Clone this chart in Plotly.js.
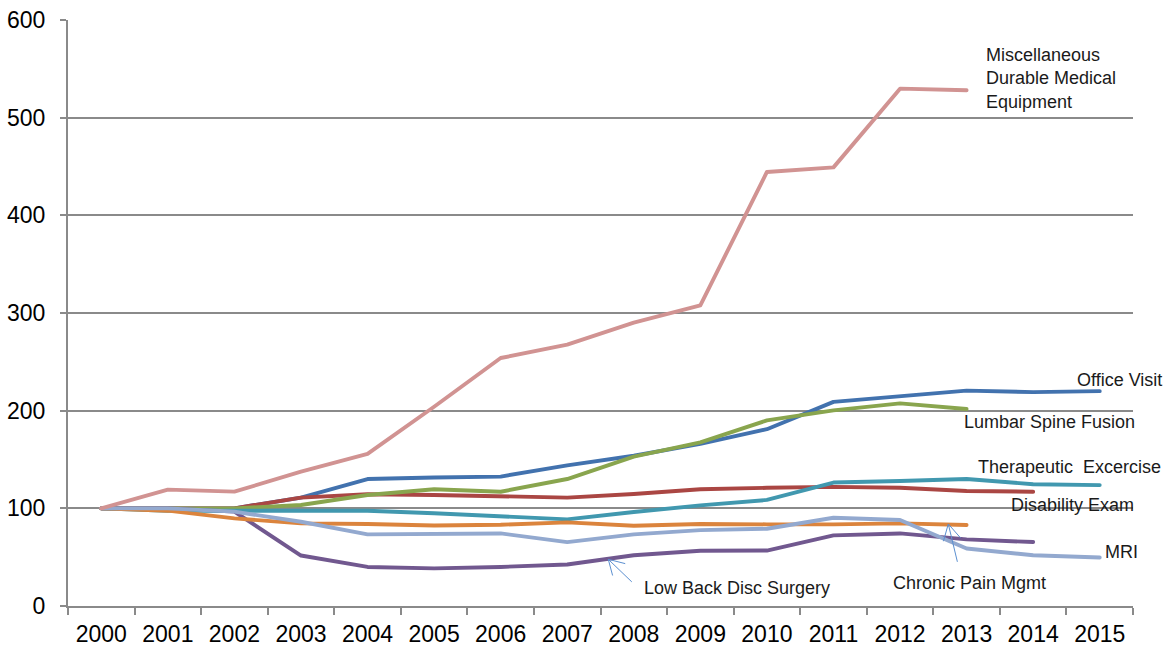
<!DOCTYPE html>
<html>
<head>
<meta charset="utf-8">
<script src="https://cdn.plot.ly/plotly-3.0.1.min.js"></script>
<style>
  html, body { margin: 0; padding: 0; background: #ffffff; }
  #chart { width: 1170px; height: 648px; }
  #chart .scatterlayer .js-line { stroke-linecap: round; stroke-linejoin: round; }
</style>
</head>
<body>
<div id="chart"></div>
<script>
// Index of cost per service (2000 = 100)
const years = ['2000','2001','2002','2003','2004','2005','2006','2007',
               '2008','2009','2010','2011','2012','2013','2014','2015'];

const officeVisit    = [100, 100, 100, 111, 130, 131.5, 132.5, 144, 153.8, 166, 181, 209, 215, 220.5, 219, 220];
const disabilityExam = [100, 100, 100, 111, 114.4, 113.7, 112, 111, 114.7, 119.5, 121, 122, 121, 117.8, 117, null];
const lumbarFusion   = [100, 100, 100, 103.4, 113.7, 119.5, 117, 130, 153, 167.5, 190, 200.3, 207.5, 201.7, null, null];
const lowBackDisc    = [100, 100, 96.6, 51.7, 40, 38.5, 40, 42.5, 52, 56.5, 56.8, 72.3, 74.3, 68.2, 65.5, null];
const therapeutic    = [100, 97.6, 97.6, 97.3, 97.6, 95, 92, 88.7, 96.2, 103, 108.6, 126.4, 128, 130, 124.7, 123.8];
const chronicPain    = [100, 97.6, 89.7, 84.6, 83.9, 82.5, 83.2, 85.6, 82.2, 84, 83.6, 83.6, 84.6, 82.9, null, null];
const mri            = [100, 100, 96.6, 86.3, 73.3, 73.6, 74.3, 65.4, 73.3, 77.7, 79.1, 90.4, 88, 58.9, 52, 49.7];
const miscDME        = [100, 119.2, 117.1, 137.5, 155.8, 204, 253.9, 267.6, 290.1, 307.8, 444.4, 449.1, 529.7, 528, null, null];

const seriesNames = ['Office Visit', 'Disability Exam', 'Lumbar Spine Fusion', 'Low Back Disc Surgery',
                     'Therapeutic  Excercise', 'Chronic Pain Mgmt', 'MRI', 'Miscellaneous Durable Medical Equipment'];
const seriesValues = [officeVisit, disabilityExam, lumbarFusion, lowBackDisc,
                      therapeutic, chronicPain, mri, miscDME];
const seriesColors = ['#4272AE', '#AA4643', '#89A54E', '#71588F',
                      '#4198AF', '#DB843D', '#93A9CF', '#D19392'];

const traces = seriesValues.map((vals, i) => ({
  type: 'scatter',
  mode: 'lines',
  name: seriesNames[i],
  x: years,
  y: vals,
  connectgaps: false,
  line: { color: seriesColors[i], width: 3.9 },
  hoverinfo: 'x+y+name'
}));

const gridGray = '#8a8a8a';
const txtFont = { family: 'Liberation Sans, Arial, sans-serif', size: 18, color: '#1a1a1a' };

// End-of-line series labels (anchored at their left edge)
function label(text, x, y) {
  return { text: text, x: x, y: y, xref: 'x', yref: 'y', showarrow: false,
           xanchor: 'left', yanchor: 'middle', align: 'left', font: txtFont };
}

// Thin pointer arrow drawn as a shaft plus two open arms
const arrowColor = '#5B8FD0';
function seg(x0, y0, x1, y1) {
  return { text: '', x: x0, y: y0, ax: x1, ay: y1, xref: 'x', yref: 'y', axref: 'x', ayref: 'y',
           showarrow: true, arrowhead: 0, arrowwidth: 1, arrowcolor: arrowColor,
           standoff: 0, startstandoff: 0 };
}

const annotations = [
  label('Miscellaneous<br>Durable Medical<br>Equipment', 13.26, 540.6),
  label('Office Visit', 14.63, 231.5),
  label('Lumbar Spine Fusion', 12.93, 188.4),
  label('Therapeutic\u00a0 Excercise', 13.14, 142.6),
  label('Disability Exam', 13.64, 103.9),
  label('MRI', 15.05, 55.3),
  label('Low Back Disc Surgery', 8.12, 18.4),
  label('Chronic Pain Mgmt', 11.87, 23.2),
  seg(7.617, 47.8, 7.993, 23.2),
  seg(7.617, 47.8, 7.688, 29.7),
  seg(7.617, 47.8, 7.894, 43.0),
  seg(12.725, 84.0, 12.867, 43.7),
  seg(12.725, 84.0, 12.646, 64.8),
  seg(12.725, 84.0, 12.927, 68.3)
];

const layout = {
  width: 1170,
  height: 648,
  margin: { l: 68, r: 37, t: 20, b: 42, pad: 0 },
  paper_bgcolor: '#ffffff',
  plot_bgcolor: '#ffffff',
  showlegend: false,
  font: { family: 'Liberation Sans, Arial, sans-serif', color: '#000000' },
  xaxis: {
    type: 'category',
    categoryorder: 'array',
    categoryarray: years,
    range: [-0.5, 15.5],
    tickson: 'boundaries',
    ticks: 'outside',
    ticklen: 7,
    tickwidth: 2,
    tickcolor: gridGray,
    showline: true,
    linecolor: gridGray,
    linewidth: 2,
    showgrid: false,
    zeroline: false,
    tickfont: { family: 'Liberation Sans, Arial, sans-serif', size: 23, color: '#000000' },
    ticklabelstandoff: 6,
    fixedrange: true
  },
  yaxis: {
    range: [0, 600],
    tickmode: 'linear',
    tick0: 0,
    dtick: 100,
    ticks: 'outside',
    ticklen: 6,
    tickwidth: 2,
    tickcolor: gridGray,
    showline: true,
    linecolor: gridGray,
    linewidth: 2,
    showgrid: true,
    gridcolor: gridGray,
    gridwidth: 2,
    zeroline: false,
    tickfont: { family: 'Liberation Sans, Arial, sans-serif', size: 23, color: '#000000' },
    ticklabelstandoff: 10,
    fixedrange: true
  },
  annotations: annotations
};

Plotly.newPlot('chart', traces, layout, { displayModeBar: false, staticPlot: true });
</script>
</body>
</html>
